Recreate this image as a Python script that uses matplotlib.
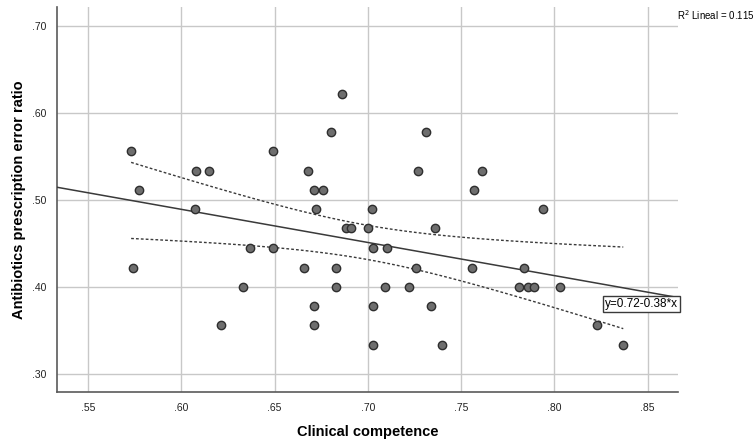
import numpy as np
import matplotlib.pyplot as plt

plt.rcParams['font.family'] = ['Liberation Sans', 'DejaVu Sans']

# clinical competence (x) and antibiotics prescription error ratio (y)
competence = [0.573, 0.577, 0.608, 0.615, 0.649, 0.668, 0.671, 0.676, 0.680, 0.686,
              0.731, 0.727, 0.761, 0.757, 0.607, 0.672, 0.702, 0.688, 0.691, 0.700,
              0.637, 0.649, 0.703, 0.710, 0.574, 0.666, 0.683, 0.633, 0.683, 0.709,
              0.671, 0.703, 0.621, 0.671, 0.703, 0.794, 0.736, 0.726, 0.756, 0.784,
              0.722, 0.781, 0.786, 0.789, 0.803, 0.734, 0.823, 0.740, 0.837]
error_ratio = [0.556, 0.511, 0.533, 0.533, 0.556, 0.533, 0.511, 0.511, 0.578, 0.622,
               0.578, 0.533, 0.533, 0.511, 0.489, 0.489, 0.489, 0.467, 0.467, 0.467,
               0.444, 0.444, 0.444, 0.444, 0.422, 0.422, 0.422, 0.400, 0.400, 0.400,
               0.378, 0.378, 0.356, 0.356, 0.333, 0.489, 0.467, 0.422, 0.422, 0.422,
               0.400, 0.400, 0.400, 0.400, 0.400, 0.378, 0.356, 0.333, 0.333]

intercept = 0.7176
slope = -0.381
r2_text = 'R$^2$ Lineal = 0.115'
eq_text = 'y=0.72-0.38*x'

x_ticks = [0.55, 0.60, 0.65, 0.70, 0.75, 0.80, 0.85]
y_ticks = [0.30, 0.40, 0.50, 0.60, 0.70]

x = np.array(competence)
y = np.array(error_ratio)
n = len(x)

fig = plt.figure(figsize=(7.54, 4.44), dpi=100)
ax = fig.add_axes([57.3 / 754, 1 - 392.3 / 444, (677.7 - 57.3) / 754, (392.3 - 7.3) / 444])
ax.set_xlim(0.5334, 0.8662)
ax.set_ylim(0.2785, 0.7215)

ax.grid(True, color='#c8c8c8', linewidth=1.0)
ax.set_axisbelow(True)

# fit line across the whole plot
xl = np.array(ax.get_xlim())
ax.plot(xl, intercept + slope * xl, color='#3a3a3a', linewidth=1.1, zorder=3)

# 95% confidence band for the mean
xs = np.linspace(x.min(), x.max(), 100)
resid = y - (intercept + slope * x)
s = np.sqrt(np.sum(resid ** 2) / (n - 2))
sxx = np.sum((x - x.mean()) ** 2)
half = 2.012 * s * np.sqrt(1 / n + (xs - x.mean()) ** 2 / sxx)
yfit = intercept + slope * xs
ax.plot(xs, yfit + half, color='#3a3a3a', linewidth=1.0, linestyle=(0, (2, 1.5)), zorder=3)
ax.plot(xs, yfit - half, color='#3a3a3a', linewidth=1.0, linestyle=(0, (2, 1.5)), zorder=3)

ax.scatter(x, y, s=36, facecolor='#6e6e6e', edgecolor='#2e2e2e', linewidth=1.0, zorder=4)

ax.set_xticks(x_ticks)
ax.set_xticklabels(['.%02d' % round(v * 100) for v in x_ticks])
ax.set_yticks(y_ticks)
ax.set_yticklabels(['.%02d' % round(v * 100) for v in y_ticks])
ax.tick_params(length=0, labelsize=7.5, colors='#222222', pad=8)

for side in ['top', 'right']:
    ax.spines[side].set_visible(False)
for side in ['left', 'bottom']:
    ax.spines[side].set_color('#5a5a5a')
    ax.spines[side].set_linewidth(1.2)

ax.set_xlabel('Clinical competence', fontsize=10.5, fontweight='bold', labelpad=8)
ax.set_ylabel('Antibiotics prescription error ratio', fontsize=10.5, fontweight='bold', labelpad=4)

fig.text(716 / 754, 1 - 15 / 444, r2_text, fontsize=7, ha='center', va='center')
ax.text(0.8662, 0.380, eq_text, fontsize=8.5, ha='right', va='center',
        transform=ax.transData, zorder=5,
        bbox=dict(boxstyle='square,pad=0.18', facecolor='white', edgecolor='#3a3a3a', linewidth=1.0))

fig.savefig('out.png', dpi=100)
